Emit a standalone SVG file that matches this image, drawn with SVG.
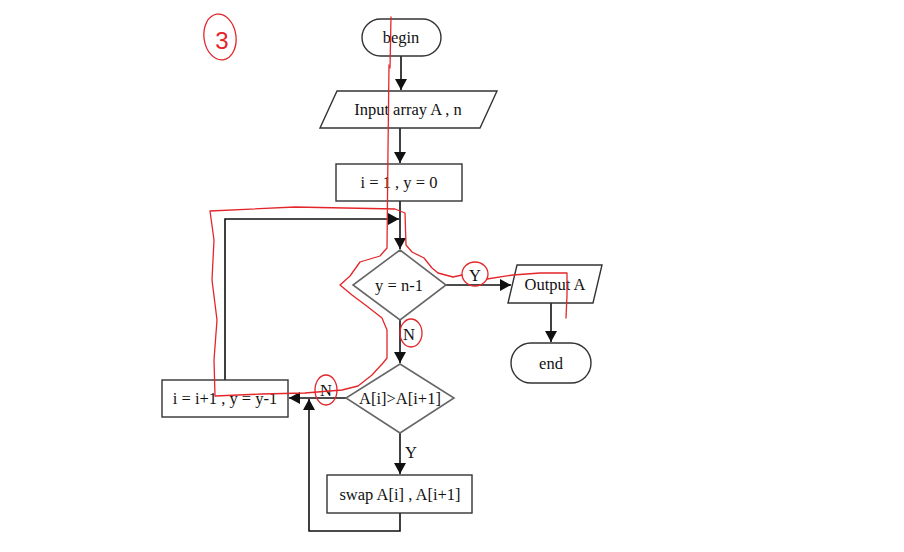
<svg xmlns="http://www.w3.org/2000/svg" width="904" height="552" viewBox="0 0 904 552">
<style>
  .box { fill: #fff; stroke: #333; stroke-width: 1.4; }
  .dia { fill: #fff; stroke: #666; stroke-width: 1.6; }
  .t { font-family: "Liberation Serif", "Times New Roman", serif; font-size: 16.5px; fill: #111; text-anchor: middle; dominant-baseline: central; }
  .conn { fill: none; stroke: #111; stroke-width: 1.6; }
  .red { fill: none; stroke: #e3262a; stroke-width: 1.3; stroke-linejoin: round; stroke-linecap: round; }
  .redt { font-family: "Liberation Sans", Arial, sans-serif; font-size: 24px; fill: #e3262a; text-anchor: middle; dominant-baseline: central; }
</style>
<defs>
  <marker id="arr" markerUnits="userSpaceOnUse" markerWidth="12" markerHeight="12" refX="11" refY="6" orient="auto">
    <path d="M0,0 L11,6 L0,12 z" fill="#111"/>
  </marker>
</defs>
<rect width="904" height="552" fill="#fff"/>

<g id="connectors">
  <path class="conn" d="M401,56 V90" marker-end="url(#arr)"/>
  <path class="conn" d="M400,128 V163" marker-end="url(#arr)"/>
  <path class="conn" d="M400,201 V249" marker-end="url(#arr)"/>
  <path class="conn" d="M225,380 V219 H399" marker-end="url(#arr)"/>
  <path class="conn" d="M446,285 H511" marker-end="url(#arr)"/>
  <path class="conn" d="M551,303 V342" marker-end="url(#arr)"/>
  <path class="conn" d="M400,320 V363" marker-end="url(#arr)"/>
  <path class="conn" d="M346,398 H289" marker-end="url(#arr)"/>
  <path class="conn" d="M400,433 V474" marker-end="url(#arr)"/>
  <path class="conn" d="M400,513 V531 H309 V399" marker-end="url(#arr)"/>
  <text class="t" x="475" y="275">Y</text>
  <text class="t" x="409" y="334">N</text>
  <text class="t" x="326" y="390">N</text>
  <text class="t" x="411" y="452">Y</text>
</g>

<g id="begin">
  <rect class="box" x="362" y="19" width="79" height="37" rx="18.5"/>
  <text class="t" x="401" y="37">begin</text>
</g>
<g id="input">
  <polygon class="box" points="337,91 497,91 480,128 320,128"/>
  <text class="t" x="408" y="109">Input array A , n</text>
</g>
<g id="init">
  <rect class="box" x="336" y="164" width="126" height="37"/>
  <text class="t" x="399" y="182">i = 1 , y = 0</text>
</g>
<g id="cond1">
  <polygon class="dia" points="400,250 446,285 400,320 353,285"/>
  <text class="t" x="399" y="285">y = n-1</text>
</g>
<g id="output">
  <polygon class="box" points="517,265 602,265 593,303 508,303"/>
  <text class="t" x="555" y="284">Output A</text>
</g>
<g id="end">
  <rect class="box" x="511" y="343" width="80" height="40" rx="20"/>
  <text class="t" x="551" y="363">end</text>
</g>
<g id="cond2">
  <polygon class="dia" points="400,364 454,398 400,433 346,398"/>
  <text class="t" x="400" y="398">A[i]&gt;A[i+1]</text>
</g>
<g id="incr">
  <rect class="box" x="162" y="380" width="126" height="37"/>
  <text class="t" x="225" y="398">i = i+1 , y = y-1</text>
</g>
<g id="swap">
  <rect class="box" x="327" y="475" width="145" height="38"/>
  <text class="t" x="400" y="494">swap A[i] , A[i+1]</text>
</g>

<g id="annotations">
  <ellipse class="red" cx="220" cy="37" rx="16" ry="23" transform="rotate(-8 220 37)"/>
  <text class="redt" x="222" y="40">3</text>
  <path class="red" d="M391,17 L390,68"/>
  <path class="red" d="M389,65 L388,150 L387,248 L380,256 L360,262 L350,276 L340,285 L352,295 L368,307 L382,318 L387,330 L387,358 L383,363 L372,375 L358,386 L342,390 L305,393 L262,394 L215,396 L214,360 L217,320 L212,280 L214,240 L210,211 L295,207 L395,209 L405,213 L406,245 L412,252 L424,258 L432,268 L438,273 L453,277 L462,275"/>
  <path class="red" d="M487,279 L513,275 L540,273 L567,273 L567,295 L566,318"/>
  <ellipse class="red" cx="475" cy="274" rx="13" ry="12"/>
  <ellipse class="red" cx="411" cy="333" rx="11" ry="14"/>
  <ellipse class="red" cx="326" cy="390" rx="11" ry="15"/>
</g>
</svg>
